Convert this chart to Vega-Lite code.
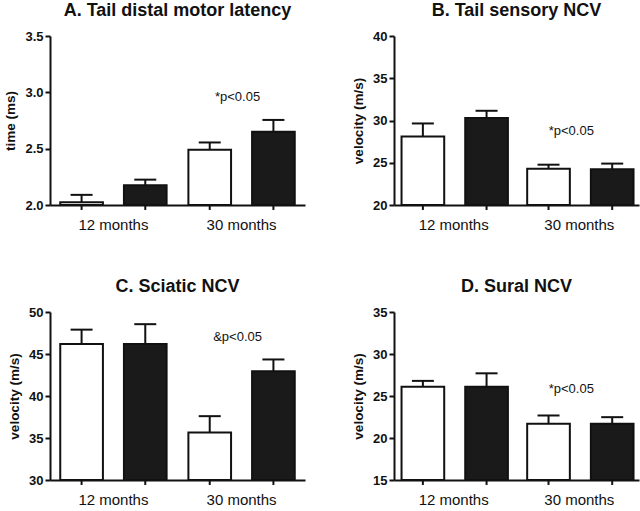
{
  "$schema": "https://vega.github.io/schema/vega-lite/v6.json",
  "padding": {"left": 3, "top": 2, "right": 5, "bottom": 0},
  "background": "white",
  "datasets": {
    "bars": [
      {"panel": "A", "age": "12 months", "group": "open", "mean": 2.025, "upper": 2.09},
      {"panel": "A", "age": "12 months", "group": "filled", "mean": 2.175, "upper": 2.225},
      {"panel": "A", "age": "30 months", "group": "open", "mean": 2.49, "upper": 2.555},
      {"panel": "A", "age": "30 months", "group": "filled", "mean": 2.65, "upper": 2.755},
      {"panel": "B", "age": "12 months", "group": "open", "mean": 28.1, "upper": 29.65},
      {"panel": "B", "age": "12 months", "group": "filled", "mean": 30.3, "upper": 31.15},
      {"panel": "B", "age": "30 months", "group": "open", "mean": 24.3, "upper": 24.77},
      {"panel": "B", "age": "30 months", "group": "filled", "mean": 24.22, "upper": 24.9},
      {"panel": "C", "age": "12 months", "group": "open", "mean": 46.2, "upper": 47.9},
      {"panel": "C", "age": "12 months", "group": "filled", "mean": 46.2, "upper": 48.55},
      {"panel": "C", "age": "30 months", "group": "open", "mean": 35.65, "upper": 37.6},
      {"panel": "C", "age": "30 months", "group": "filled", "mean": 42.95, "upper": 44.35},
      {"panel": "D", "age": "12 months", "group": "open", "mean": 26.1, "upper": 26.8},
      {"panel": "D", "age": "12 months", "group": "filled", "mean": 26.1, "upper": 27.7},
      {"panel": "D", "age": "30 months", "group": "open", "mean": 21.7, "upper": 22.68},
      {"panel": "D", "age": "30 months", "group": "filled", "mean": 21.7, "upper": 22.48}
    ],
    "notes": [
      {"panel": "A", "age": "30 months", "y": 2.96, "label": "*p<0.05"},
      {"panel": "B", "age": "30 months", "y": 28.76, "label": "*p<0.05"},
      {"panel": "C", "age": "30 months", "y": 47.0, "label": "&p<0.05"},
      {"panel": "D", "age": "30 months", "y": 25.8, "label": "*p<0.05"}
    ]
  },
  "columns": 2,
  "spacing": {"row": 46, "column": 46},
  "concat": [
    {
      "width": 255, "height": 169,
      "title": "A. Tail distal motor latency",
      "layer": [
        {
          "data": {"name": "bars"}, "transform": [{"filter": "datum.panel == 'A'"}],
          "mark": {"type": "bar", "stroke": "#111", "strokeWidth": 2},
          "encoding": {
            "x": {"field": "age", "type": "nominal", "title": null, "scale": {"paddingInner": 0.17, "paddingOuter": 0.08}},
            "xOffset": {"field": "group", "type": "nominal", "sort": ["open", "filled"], "scale": {"paddingInner": 0.33, "paddingOuter": 0}},
            "y": {"field": "mean", "type": "quantitative", "title": "time (ms)", "scale": {"domain": [2, 3.5], "zero": false, "nice": false}, "axis": {"values": [2, 2.5, 3, 3.5], "format": ".1f"}},
            "y2": {"datum": 2},
            "fill": {"field": "group", "type": "nominal", "scale": {"domain": ["open", "filled"], "range": ["#ffffff", "#1a1a1a"]}, "legend": null}
          }
        },
        {
          "data": {"name": "bars"}, "transform": [{"filter": "datum.panel == 'A'"}],
          "mark": {"type": "rule", "strokeWidth": 2, "color": "#111"},
          "encoding": {
            "x": {"field": "age", "type": "nominal"},
            "xOffset": {"field": "group", "type": "nominal", "sort": ["open", "filled"]},
            "y": {"datum": 2, "type": "quantitative"},
            "y2": {"datum": 1.956}
          }
        },
        {
          "data": {"name": "bars"}, "transform": [{"filter": "datum.panel == 'A'"}],
          "mark": {"type": "rule", "strokeWidth": 2, "color": "#111"},
          "encoding": {
            "x": {"field": "age", "type": "nominal"},
            "xOffset": {"field": "group", "type": "nominal", "sort": ["open", "filled"]},
            "y": {"field": "mean", "type": "quantitative"},
            "y2": {"field": "upper"}
          }
        },
        {
          "data": {"name": "bars"}, "transform": [{"filter": "datum.panel == 'A'"}],
          "mark": {"type": "tick", "thickness": 2, "size": 22, "color": "#111", "orient": "horizontal", "opacity": 1},
          "encoding": {
            "x": {"field": "age", "type": "nominal"},
            "xOffset": {"field": "group", "type": "nominal", "sort": ["open", "filled"]},
            "y": {"field": "upper", "type": "quantitative"}
          }
        },
        {
          "data": {"name": "notes"}, "transform": [{"filter": "datum.panel == 'A'"}],
          "mark": {"type": "text", "fontSize": 13, "font": "Liberation Sans", "color": "#111", "baseline": "middle", "dx": -4},
          "encoding": {
            "x": {"field": "age", "type": "nominal"},
            "y": {"field": "y", "type": "quantitative"},
            "text": {"field": "label"}
          }
        }
      ]
    },
    {
      "width": 245, "height": 169,
      "title": "B. Tail sensory NCV",
      "layer": [
        {
          "data": {"name": "bars"}, "transform": [{"filter": "datum.panel == 'B'"}],
          "mark": {"type": "bar", "stroke": "#111", "strokeWidth": 2},
          "encoding": {
            "x": {"field": "age", "type": "nominal", "title": null, "scale": {"paddingInner": 0.17, "paddingOuter": 0.06}},
            "xOffset": {"field": "group", "type": "nominal", "sort": ["open", "filled"], "scale": {"paddingInner": 0.33, "paddingOuter": 0}},
            "y": {"field": "mean", "type": "quantitative", "title": "velocity (m/s)", "scale": {"domain": [20, 40], "zero": false, "nice": false}, "axis": {"values": [20, 25, 30, 35, 40]}},
            "y2": {"datum": 20},
            "fill": {"field": "group", "type": "nominal", "scale": {"domain": ["open", "filled"], "range": ["#ffffff", "#1a1a1a"]}, "legend": null}
          }
        },
        {
          "data": {"name": "bars"}, "transform": [{"filter": "datum.panel == 'B'"}],
          "mark": {"type": "rule", "strokeWidth": 2, "color": "#111"},
          "encoding": {
            "x": {"field": "age", "type": "nominal"},
            "xOffset": {"field": "group", "type": "nominal", "sort": ["open", "filled"]},
            "y": {"datum": 20, "type": "quantitative"},
            "y2": {"datum": 19.41}
          }
        },
        {
          "data": {"name": "bars"}, "transform": [{"filter": "datum.panel == 'B'"}],
          "mark": {"type": "rule", "strokeWidth": 2, "color": "#111"},
          "encoding": {
            "x": {"field": "age", "type": "nominal"},
            "xOffset": {"field": "group", "type": "nominal", "sort": ["open", "filled"]},
            "y": {"field": "mean", "type": "quantitative"},
            "y2": {"field": "upper"}
          }
        },
        {
          "data": {"name": "bars"}, "transform": [{"filter": "datum.panel == 'B'"}],
          "mark": {"type": "tick", "thickness": 2, "size": 22, "color": "#111", "orient": "horizontal", "opacity": 1},
          "encoding": {
            "x": {"field": "age", "type": "nominal"},
            "xOffset": {"field": "group", "type": "nominal", "sort": ["open", "filled"]},
            "y": {"field": "upper", "type": "quantitative"}
          }
        },
        {
          "data": {"name": "notes"}, "transform": [{"filter": "datum.panel == 'B'"}],
          "mark": {"type": "text", "fontSize": 13, "font": "Liberation Sans", "color": "#111", "baseline": "middle", "dx": -8},
          "encoding": {
            "x": {"field": "age", "type": "nominal"},
            "y": {"field": "y", "type": "quantitative"},
            "text": {"field": "label"}
          }
        }
      ]
    },
    {
      "width": 255, "height": 168,
      "title": "C. Sciatic NCV",
      "layer": [
        {
          "data": {"name": "bars"}, "transform": [{"filter": "datum.panel == 'C'"}],
          "mark": {"type": "bar", "stroke": "#111", "strokeWidth": 2},
          "encoding": {
            "x": {"field": "age", "type": "nominal", "title": null, "scale": {"paddingInner": 0.17, "paddingOuter": 0.08}},
            "xOffset": {"field": "group", "type": "nominal", "sort": ["open", "filled"], "scale": {"paddingInner": 0.33, "paddingOuter": 0}},
            "y": {"field": "mean", "type": "quantitative", "title": "velocity (m/s)", "scale": {"domain": [30, 50], "zero": false, "nice": false}, "axis": {"values": [30, 35, 40, 45, 50]}},
            "y2": {"datum": 30},
            "fill": {"field": "group", "type": "nominal", "scale": {"domain": ["open", "filled"], "range": ["#ffffff", "#1a1a1a"]}, "legend": null}
          }
        },
        {
          "data": {"name": "bars"}, "transform": [{"filter": "datum.panel == 'C'"}],
          "mark": {"type": "rule", "strokeWidth": 2, "color": "#111"},
          "encoding": {
            "x": {"field": "age", "type": "nominal"},
            "xOffset": {"field": "group", "type": "nominal", "sort": ["open", "filled"]},
            "y": {"datum": 30, "type": "quantitative"},
            "y2": {"datum": 29.41}
          }
        },
        {
          "data": {"name": "bars"}, "transform": [{"filter": "datum.panel == 'C'"}],
          "mark": {"type": "rule", "strokeWidth": 2, "color": "#111"},
          "encoding": {
            "x": {"field": "age", "type": "nominal"},
            "xOffset": {"field": "group", "type": "nominal", "sort": ["open", "filled"]},
            "y": {"field": "mean", "type": "quantitative"},
            "y2": {"field": "upper"}
          }
        },
        {
          "data": {"name": "bars"}, "transform": [{"filter": "datum.panel == 'C'"}],
          "mark": {"type": "tick", "thickness": 2, "size": 22, "color": "#111", "orient": "horizontal", "opacity": 1},
          "encoding": {
            "x": {"field": "age", "type": "nominal"},
            "xOffset": {"field": "group", "type": "nominal", "sort": ["open", "filled"]},
            "y": {"field": "upper", "type": "quantitative"}
          }
        },
        {
          "data": {"name": "notes"}, "transform": [{"filter": "datum.panel == 'C'"}],
          "mark": {"type": "text", "fontSize": 13, "font": "Liberation Sans", "color": "#111", "baseline": "middle", "dx": -4},
          "encoding": {
            "x": {"field": "age", "type": "nominal"},
            "y": {"field": "y", "type": "quantitative"},
            "text": {"field": "label"}
          }
        }
      ]
    },
    {
      "width": 245, "height": 168,
      "title": "D. Sural NCV",
      "layer": [
        {
          "data": {"name": "bars"}, "transform": [{"filter": "datum.panel == 'D'"}],
          "mark": {"type": "bar", "stroke": "#111", "strokeWidth": 2},
          "encoding": {
            "x": {"field": "age", "type": "nominal", "title": null, "scale": {"paddingInner": 0.17, "paddingOuter": 0.06}},
            "xOffset": {"field": "group", "type": "nominal", "sort": ["open", "filled"], "scale": {"paddingInner": 0.33, "paddingOuter": 0}},
            "y": {"field": "mean", "type": "quantitative", "title": "velocity (m/s)", "scale": {"domain": [15, 35], "zero": false, "nice": false}, "axis": {"values": [15, 20, 25, 30, 35]}},
            "y2": {"datum": 15},
            "fill": {"field": "group", "type": "nominal", "scale": {"domain": ["open", "filled"], "range": ["#ffffff", "#1a1a1a"]}, "legend": null}
          }
        },
        {
          "data": {"name": "bars"}, "transform": [{"filter": "datum.panel == 'D'"}],
          "mark": {"type": "rule", "strokeWidth": 2, "color": "#111"},
          "encoding": {
            "x": {"field": "age", "type": "nominal"},
            "xOffset": {"field": "group", "type": "nominal", "sort": ["open", "filled"]},
            "y": {"datum": 15, "type": "quantitative"},
            "y2": {"datum": 14.41}
          }
        },
        {
          "data": {"name": "bars"}, "transform": [{"filter": "datum.panel == 'D'"}],
          "mark": {"type": "rule", "strokeWidth": 2, "color": "#111"},
          "encoding": {
            "x": {"field": "age", "type": "nominal"},
            "xOffset": {"field": "group", "type": "nominal", "sort": ["open", "filled"]},
            "y": {"field": "mean", "type": "quantitative"},
            "y2": {"field": "upper"}
          }
        },
        {
          "data": {"name": "bars"}, "transform": [{"filter": "datum.panel == 'D'"}],
          "mark": {"type": "tick", "thickness": 2, "size": 22, "color": "#111", "orient": "horizontal", "opacity": 1},
          "encoding": {
            "x": {"field": "age", "type": "nominal"},
            "xOffset": {"field": "group", "type": "nominal", "sort": ["open", "filled"]},
            "y": {"field": "upper", "type": "quantitative"}
          }
        },
        {
          "data": {"name": "notes"}, "transform": [{"filter": "datum.panel == 'D'"}],
          "mark": {"type": "text", "fontSize": 13, "font": "Liberation Sans", "color": "#111", "baseline": "middle", "dx": -8},
          "encoding": {
            "x": {"field": "age", "type": "nominal"},
            "y": {"field": "y", "type": "quantitative"},
            "text": {"field": "label"}
          }
        }
      ]
    }
  ],
  "config": {
    "view": {"stroke": null},
    "font": "Liberation Sans",
    "axis": {"domainColor": "#111", "domainWidth": 2, "tickColor": "#111", "tickWidth": 2, "tickSize": 5, "labelColor": "#111", "titleColor": "#111", "grid": false, "labelFont": "Liberation Sans", "titleFont": "Liberation Sans"},
    "axisY": {"labelFontWeight": "bold", "labelFontSize": 13, "labelPadding": 2, "titleFontSize": 13.5, "titleFontWeight": "bold", "titlePadding": 7},
    "axisX": {"labelFontSize": 15, "labelAngle": 0, "labelPadding": 7, "tickColor": "transparent"},
    "title": {"font": "Liberation Sans", "fontSize": 18, "fontWeight": "bold", "color": "#111", "offset": 10, "frame": "group"}
  }
}
